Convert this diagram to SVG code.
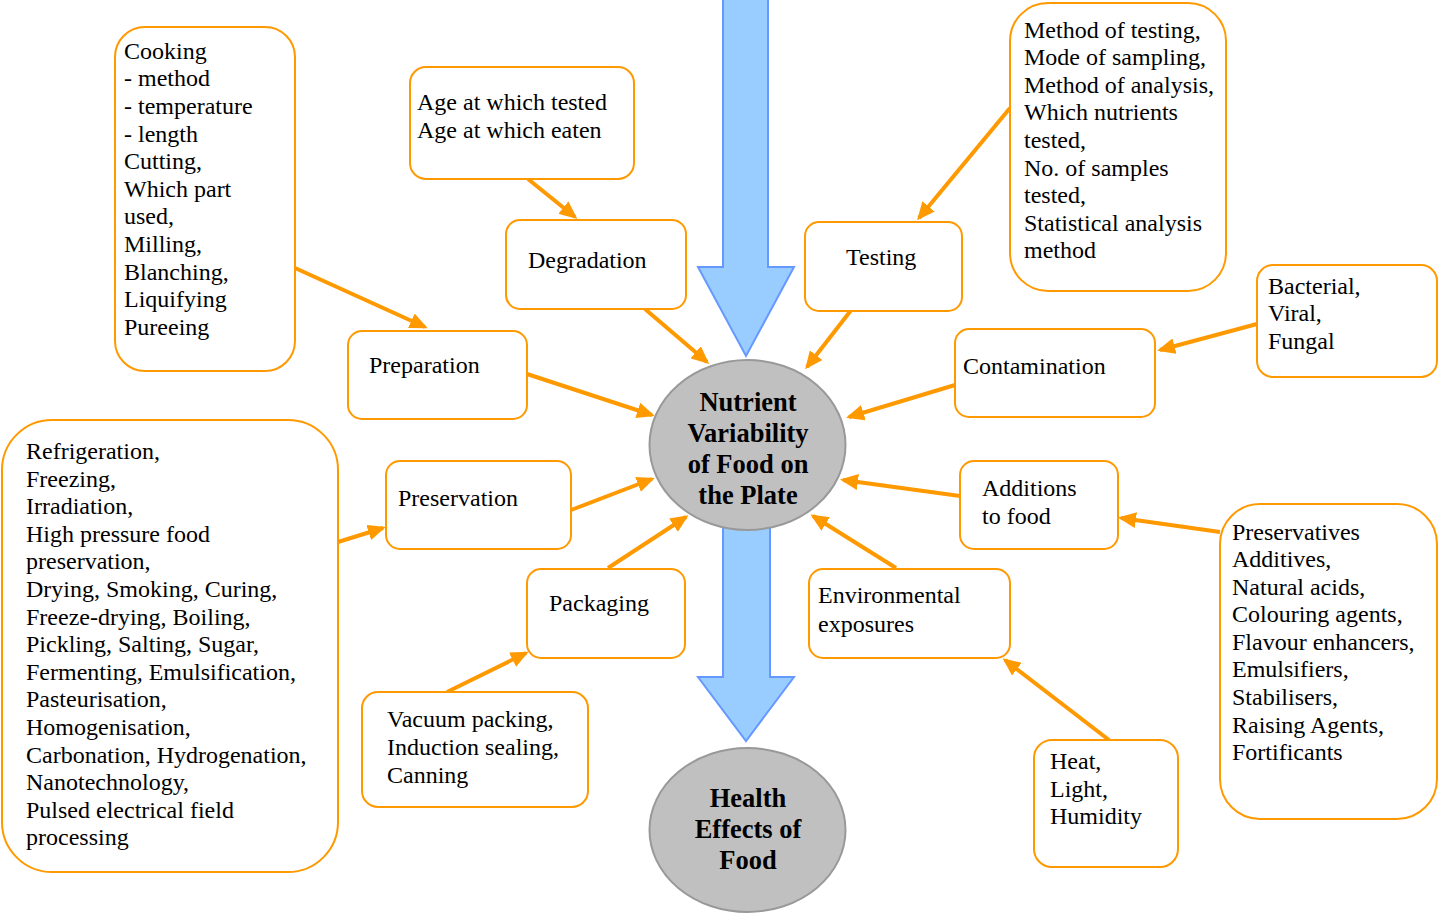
<svg xmlns="http://www.w3.org/2000/svg" width="1446" height="922" viewBox="0 0 1446 922">
<style>
.box{fill:#fff;stroke:#ff9900;stroke-width:2}
.t{font-size:24px;fill:#000}
.b{font-size:26.5px;font-weight:bold;fill:#000;text-anchor:middle}
.ell{fill:#c0c0c0;stroke:#999;stroke-width:2}
.big{fill:#99ccff;stroke:#6699ff;stroke-width:2}
.c{stroke:#ff9900;stroke-width:4;fill:none;marker-end:url(#ah)}
</style>
<defs>
<marker id="ah" markerUnits="userSpaceOnUse" markerWidth="18" markerHeight="16" viewBox="0 0 18 16" refX="15" refY="8" orient="auto">
<path d="M0,0 L18,8 L0,16 z" fill="#ff9900"/>
</marker>
</defs>
<rect width="1446" height="922" fill="#fff"/>
<g id="bigarrows">
<path class="big" d="M723,-2 L768,-2 L768,267 L794,267 L746,356 L698,267 L723,267 Z"/>
<path class="big" d="M723,500 L770,500 L770,677 L794,677 L746,741 L698,677 L723,677 Z"/>
</g>
<g id="connectors">
<line class="c" x1="295" y1="268" x2="425" y2="327"/>
<line class="c" x1="528" y1="179" x2="575" y2="217"/>
<line class="c" x1="645" y1="309" x2="707" y2="362"/>
<line class="c" x1="852" y1="309" x2="807" y2="367"/>
<line class="c" x1="1010" y1="108" x2="919" y2="218"/>
<line class="c" x1="1257" y1="324" x2="1160" y2="350"/>
<line class="c" x1="955" y1="385" x2="849" y2="417"/>
<line class="c" x1="527" y1="374" x2="652" y2="415"/>
<line class="c" x1="338" y1="542" x2="383" y2="528"/>
<line class="c" x1="571" y1="510" x2="652" y2="479"/>
<line class="c" x1="608" y1="568" x2="686" y2="517"/>
<line class="c" x1="447" y1="692" x2="526" y2="653"/>
<line class="c" x1="960" y1="496" x2="843" y2="480"/>
<line class="c" x1="896" y1="568" x2="813" y2="516"/>
<line class="c" x1="1109" y1="740" x2="1005" y2="660"/>
<line class="c" x1="1220" y1="532" x2="1121" y2="518"/>
</g>
<g font-family="'Liberation Serif', Tinos, 'Times New Roman', serif">
<g id="nutrient">
<ellipse class="ell" cx="747.5" cy="445" rx="98" ry="85"/>
<text class="b" x="748" y="411">Nutrient</text>
<text class="b" x="748" y="442">Variability</text>
<text class="b" x="748" y="473">of Food on</text>
<text class="b" x="748" y="504">the Plate</text>
</g>
<g id="health">
<ellipse class="ell" cx="747.5" cy="830" rx="98" ry="82"/>
<text class="b" x="748" y="807">Health</text>
<text class="b" x="748" y="838">Effects of</text>
<text class="b" x="748" y="869">Food</text>
</g>
<g id="cooking">
<rect class="box" x="115" y="27" width="180" height="344" rx="30"/>
<text class="t" x="124" y="59">Cooking</text>
<text class="t" x="124" y="86">- method</text>
<text class="t" x="124" y="114">- temperature</text>
<text class="t" x="124" y="142">- length</text>
<text class="t" x="124" y="169">Cutting,</text>
<text class="t" x="124" y="197">Which part</text>
<text class="t" x="124" y="224">used,</text>
<text class="t" x="124" y="252">Milling,</text>
<text class="t" x="124" y="280">Blanching,</text>
<text class="t" x="124" y="307">Liquifying</text>
<text class="t" x="124" y="335">Pureeing</text>
</g>
<g id="age">
<rect class="box" x="410" y="67" width="224" height="112" rx="16"/>
<text class="t" x="417" y="110">Age at which tested</text>
<text class="t" x="417" y="138">Age at which eaten</text>
</g>
<g id="degradation">
<rect class="box" x="506" y="220" width="180" height="89" rx="14"/>
<text class="t" x="528" y="268">Degradation</text>
</g>
<g id="testing">
<rect class="box" x="805" y="222" width="157" height="89" rx="14"/>
<text class="t" x="846" y="265">Testing</text>
</g>
<g id="method">
<rect class="box" x="1010" y="3" width="216" height="288" rx="38"/>
<text class="t" x="1024" y="38">Method of testing,</text>
<text class="t" x="1024" y="65">Mode of sampling,</text>
<text class="t" x="1024" y="93">Method of analysis,</text>
<text class="t" x="1024" y="120">Which nutrients</text>
<text class="t" x="1024" y="148">tested,</text>
<text class="t" x="1024" y="176">No. of samples</text>
<text class="t" x="1024" y="203">tested,</text>
<text class="t" x="1024" y="231">Statistical analysis</text>
<text class="t" x="1024" y="258">method</text>
</g>
<g id="bacterial">
<rect class="box" x="1257" y="265" width="180" height="112" rx="16"/>
<text class="t" x="1268" y="294">Bacterial,</text>
<text class="t" x="1268" y="321">Viral,</text>
<text class="t" x="1268" y="349">Fungal</text>
</g>
<g id="contamination">
<rect class="box" x="955" y="329" width="200" height="88" rx="14"/>
<text class="t" x="963" y="374">Contamination</text>
</g>
<g id="preparation">
<rect class="box" x="348" y="331" width="179" height="88" rx="14"/>
<text class="t" x="369" y="373">Preparation</text>
</g>
<g id="preslist">
<rect class="box" x="2" y="420" width="336" height="452" rx="50"/>
<text class="t" x="26" y="459">Refrigeration,</text>
<text class="t" x="26" y="487">Freezing,</text>
<text class="t" x="26" y="514">Irradiation,</text>
<text class="t" x="26" y="542">High pressure food</text>
<text class="t" x="26" y="569">preservation,</text>
<text class="t" x="26" y="597">Drying, Smoking, Curing,</text>
<text class="t" x="26" y="625">Freeze-drying, Boiling,</text>
<text class="t" x="26" y="652">Pickling, Salting, Sugar,</text>
<text class="t" x="26" y="680">Fermenting, Emulsification,</text>
<text class="t" x="26" y="707">Pasteurisation,</text>
<text class="t" x="26" y="735">Homogenisation,</text>
<text class="t" x="26" y="763">Carbonation, Hydrogenation,</text>
<text class="t" x="26" y="790">Nanotechnology,</text>
<text class="t" x="26" y="818">Pulsed electrical field</text>
<text class="t" x="26" y="845">processing</text>
</g>
<g id="preservation">
<rect class="box" x="386" y="461" width="185" height="88" rx="14"/>
<text class="t" x="398" y="506">Preservation</text>
</g>
<g id="packaging">
<rect class="box" x="527" y="569" width="158" height="89" rx="14"/>
<text class="t" x="549" y="611">Packaging</text>
</g>
<g id="vacuum">
<rect class="box" x="362" y="692" width="226" height="115" rx="16"/>
<text class="t" x="387" y="727">Vacuum packing,</text>
<text class="t" x="387" y="755">Induction sealing,</text>
<text class="t" x="387" y="783">Canning</text>
</g>
<g id="additions">
<rect class="box" x="960" y="461" width="158" height="88" rx="14"/>
<text class="t" x="982" y="496">Additions</text>
<text class="t" x="982" y="524">to food</text>
</g>
<g id="environmental">
<rect class="box" x="809" y="569" width="201" height="89" rx="14"/>
<text class="t" x="818" y="603">Environmental</text>
<text class="t" x="818" y="632">exposures</text>
</g>
<g id="heat">
<rect class="box" x="1034" y="740" width="144" height="127" rx="18"/>
<text class="t" x="1050" y="769">Heat,</text>
<text class="t" x="1050" y="797">Light,</text>
<text class="t" x="1050" y="824">Humidity</text>
</g>
<g id="preservatives">
<rect class="box" x="1220" y="504" width="217" height="315" rx="40"/>
<text class="t" x="1232" y="540">Preservatives</text>
<text class="t" x="1232" y="567">Additives,</text>
<text class="t" x="1232" y="595">Natural acids,</text>
<text class="t" x="1232" y="622">Colouring agents,</text>
<text class="t" x="1232" y="650">Flavour enhancers,</text>
<text class="t" x="1232" y="677">Emulsifiers,</text>
<text class="t" x="1232" y="705">Stabilisers,</text>
<text class="t" x="1232" y="733">Raising Agents,</text>
<text class="t" x="1232" y="760">Fortificants</text>
</g>
</g>
</svg>
